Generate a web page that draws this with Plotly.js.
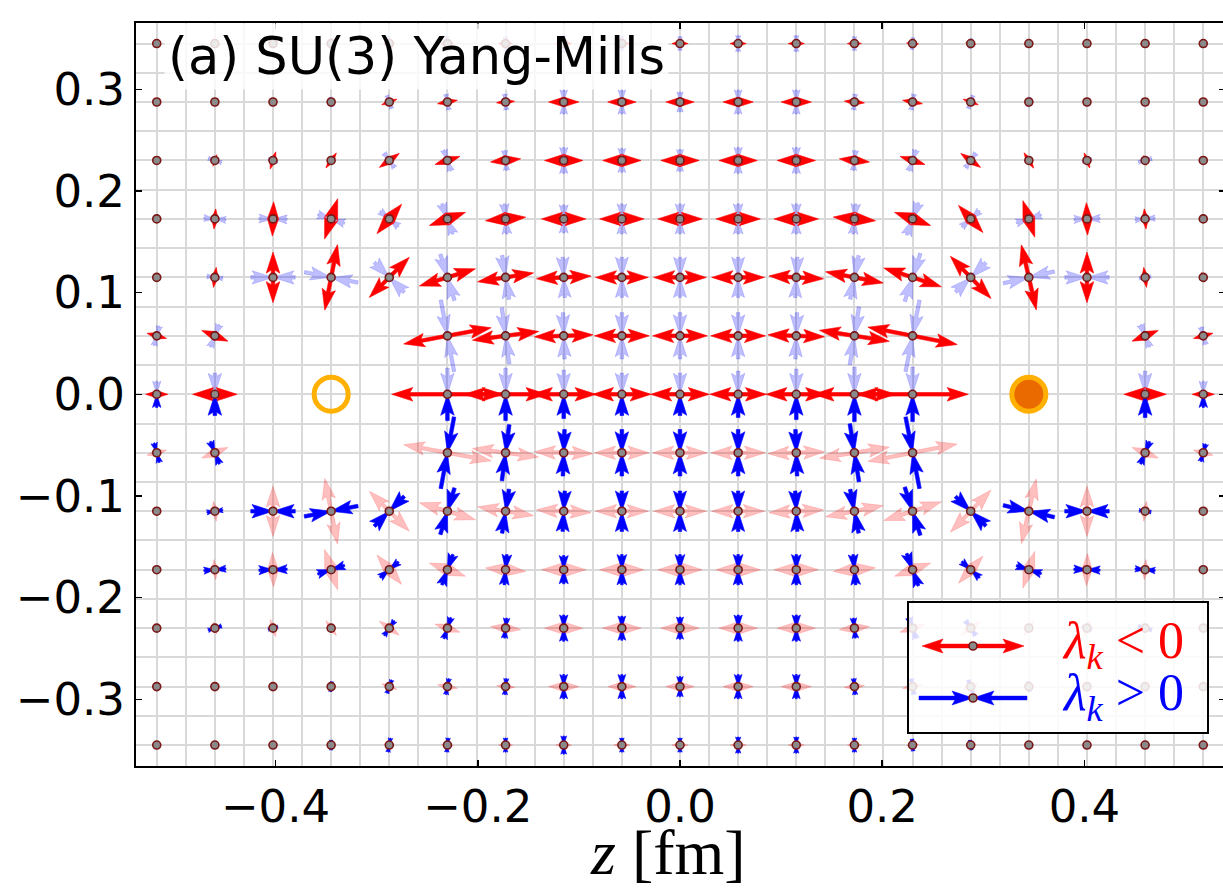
<!DOCTYPE html>
<html><head><meta charset="utf-8">
<script src="https://cdn.plot.ly/plotly-3.0.1.min.js"></script>
<style>html,body{margin:0;padding:0;background:#fff;overflow:hidden}</style>
</head><body><div id="chart" style="width:1225px;height:892px"></div>
<script>
// ---------------- data ----------------
// grid positions of the plotted lattice sites (fm)
const zPos = [-0.5175,-0.46,-0.4025,-0.345,-0.2875,-0.23,-0.1725,-0.115,-0.0575,0,0.0575,0.115,0.1725,0.23,0.2875,0.345,0.4025,0.46,0.5175];
const rPos = [0,0.0575,0.115,0.1725,0.23,0.2875,0.345];
// static charges (anti-quark open, quark filled)
const chargeZ = [-0.345, 0.345];
const chargeR = [0, 0];
// per row y = rPos[j]: angle (deg) of the lambda<0 eigenvector,
// half-length of the lambda<0 arrow (fm), half-length of the lambda>0 arrow (fm)
const N = null;
const ang0 = [0,0,N,N,N,0,0,0,0,0,0,0,0,0,N,N,N,0,0];
const neg0 = [0.011,0.022,N,N,N,0.055,0.041,0.032,0.029,0.029,0.028,0.030,0.041,0.055,N,N,N,0.021,0.011];
const pos0 = [0.013,0.021,N,N,N,0.026,0.026,0.024,0.021,0.021,0.023,0.025,0.027,0.027,N,N,N,0.023,0.013];

const ang1 = [-15,-22,N,N,N,10.5,7.5,2,0,0,0,-2,-9,-11,N,N,N,22,15];
const neg1 = [0.010,0.014,N,N,N,0.044,0.033,0.029,0.027,0.027,0.027,0.028,0.035,0.045,N,N,N,0.014,0.010];
const pos1 = [0.010,0.012,N,N,N,0.036,0.028,0.023,0.023,0.023,0.023,0.023,0.029,0.036,N,N,N,0.012,0.009];

const ang2 = [75,82,90,79,45,17,9,3,0,0,0,-3,-11,-18,-46,-77,-90,-82,-72];
const neg2 = [0.004,0.010,0.025,0.033,0.028,0.029,0.028,0.027,0.026,0.026,0.026,0.027,0.029,0.030,0.029,0.033,0.025,0.010,0.005];
const pos2 = [0,0.008,0.022,0.027,0.021,0.024,0.022,0.020,0.020,0.020,0.020,0.020,0.022,0.025,0.021,0.026,0.022,0.006,0];

const ang3 = [85,85,88,72,50,20,5,0,0,0,0,0,-5,-20,-48,-72,-88,-85,-85];
const neg3 = [0,0.010,0.017,0.021,0.019,0.019,0.020,0.022,0.022,0.022,0.022,0.022,0.021,0.019,0.018,0.019,0.016,0.010,0];
const pos3 = [0,0.011,0.014,0.014,0.012,0.016,0.015,0.014,0.015,0.015,0.015,0.015,0.015,0.017,0.012,0.013,0.013,0.010,0];

const ang4 = [80,72,72,55,35,18,6,0,0,0,0,0,-6,-18,-35,-58,-70,-75,-80];
const neg4 = [0.003,0.006,0.009,0.009,0.012,0.013,0.015,0.019,0.019,0.019,0.019,0.019,0.015,0.013,0.012,0.009,0.008,0.005,0.003];
const pos4 = [0,0.007,0.005,0.003,0.009,0.011,0.010,0.013,0.012,0.011,0.013,0.013,0.010,0.011,0.009,0.003,0.005,0.007,0];

const ang5 = [0,0,0,10,20,10,5,0,0,0,0,0,-5,-10,-20,-10,0,0,0];
const neg5 = [0,0,0,0.004,0.008,0.010,0.009,0.015,0.014,0.014,0.015,0.015,0.010,0.010,0.008,0.004,0,0,0];
const pos5 = [0,0,0,0.005,0.007,0.008,0.008,0.012,0.012,0.010,0.012,0.012,0.008,0.008,0.007,0.005,0,0,0];

const ang6 = [80,0,0,0,10,5,0,0,0,0,0,0,0,-5,-10,0,0,0,-80];
const neg6 = [0.004,0,0,0.003,0.005,0.006,0.007,0.008,0.008,0.008,0.008,0.008,0.007,0.006,0.005,0.003,0,0,0.004];
const pos6 = [0,0,0,0.005,0.007,0.007,0.007,0.009,0.007,0.007,0.008,0.008,0.007,0.006,0.005,0.003,0,0,0];

const xTickVals = [-0.4,-0.2,0,0.2,0.4];
const yTickVals = [-0.3,-0.2,-0.1,0,0.1,0.2,0.3];

// ---------------- layout constants ----------------
const W = 1225, H = 892;
const M = {l:136, r:0, t:23, b:126};
const XR = [-0.538, 0.539], YR = [-0.3656, 0.3652];
const PW = W - M.l - M.r, PH = H - M.t - M.b;
const SX = PW / (XR[1] - XR[0]);   // px per fm
const SY = PH / (YR[1] - YR[0]);
const px2x = p => XR[0] + (p - M.l) / SX;
const px2y = p => YR[1] - (p - M.t) / SY;

const HEAD = {w:3.6, hl:21, hw:13.5, ha:18};
function arrowPts(x0, y0, ux, uy, L, head){
  let {w, hl, hw, ha} = head || HEAD;
  if (L < hl){ const s = L / hl; w*=s; hl*=s; hw*=s; ha*=s; }
  const nx = -uy, ny = ux;
  const P = [[0,-w/2],[L-ha,-w/2],[L-hl,-hw/2],[L,0],[L-hl,hw/2],[L-ha,w/2],[0,w/2]];
  return P.map(([a,b]) => [x0 + (a*ux + b*nx)/SX, y0 + (a*uy + b*ny)/SY]);
}
function pushPoly(bucket, pts){
  pts.forEach(p => { bucket.x.push(p[0]); bucket.y.push(p[1]); });
  bucket.x.push(pts[0][0]); bucket.y.push(pts[0][1]);
  bucket.x.push(null); bucket.y.push(null);
}

const rows = [[ang0,neg0,pos0],[ang1,neg1,pos1],[ang2,neg2,pos2],[ang3,neg3,pos3],[ang4,neg4,pos4],[ang5,neg5,pos5],[ang6,neg6,pos6]];
const redOn = {x:[],y:[]}, redOff = {x:[],y:[]}, bluOn = {x:[],y:[]}, bluOff = {x:[],y:[]};
const ptsX = [], ptsY = [];

rows.forEach((row, j) => {
  const [A, R, B] = row;
  const signs = j === 0 ? [1] : [1, -1];
  signs.forEach(sg => {
    const y0 = sg * rPos[j];
    A.forEach((a, i) => {
      if (a === null) return;
      const x0 = zPos[i];
      ptsX.push(x0); ptsY.push(y0);
      const th = sg * a * Math.PI / 180;
      const rl = R[i] * SX, bl = B[i] * SX;
      [1, -1].forEach(d => {
        // lambda < 0 : outward double arrow
        if (rl > 1.5){
          const ux = d*Math.cos(th), uy = d*Math.sin(th);
          const upper = y0 > 0 || (y0 === 0 && uy >= -1e-9);
          pushPoly(upper ? redOn : redOff, arrowPts(x0, y0, ux, uy, rl));
        }
        // lambda > 0 : inward double arrow
        if (bl > 1.5){
          const vx = d*Math.cos(th + Math.PI/2), vy = d*Math.sin(th + Math.PI/2);
          const tx = x0 + bl*vx/SX, ty = y0 + bl*vy/SY;
          const upper = y0 > 0 || (y0 === 0 && vy > 1e-9);
          pushPoly(upper ? bluOff : bluOn, arrowPts(tx, ty, -vx, -vy, bl));
        }
      });
    });
  });
});

function polyTrace(b, color){
  return {type:'scatter', mode:'lines', x:b.x, y:b.y, fill:'toself', fillcolor:color,
          line:{color:color, width:0.6}, hoverinfo:'skip', showlegend:false};
}
const traces = [
  polyTrace(redOff, 'rgba(255,0,0,0.25)'),
  polyTrace(bluOff, 'rgba(0,0,255,0.25)'),
  polyTrace(redOn, '#ff0000'),
  polyTrace(bluOn, '#0000ff'),
  {type:'scatter', mode:'markers', x:ptsX, y:ptsY, hoverinfo:'skip', showlegend:false,
   marker:{size:8, color:'#8a8a8a', line:{color:'#7a1616', width:1.6}}},
  {type:'scatter', mode:'markers', x:[chargeZ[0]], y:[chargeR[0]], hoverinfo:'skip', showlegend:false,
   marker:{size:34, color:'rgba(0,0,0,0)', line:{color:'#ffb000', width:5}}},
  {type:'scatter', mode:'markers', x:[chargeZ[1]], y:[chargeR[1]], hoverinfo:'skip', showlegend:false,
   marker:{size:34, color:'#ea6a00', line:{color:'#ffb000', width:5}}}
];

// ---------------- legend (drawn as shapes above the data) ----------------
function pathOf(pts){ return 'M' + pts.map(p => p[0].toFixed(5) + ',' + p[1].toFixed(5)).join('L') + 'Z'; }
const shapes = [];
shapes.push({type:'rect', xref:'x', yref:'y', x0:px2x(908), x1:px2x(1208), y0:px2y(602), y1:px2y(733),
  fillcolor:'rgba(255,255,255,0.85)', line:{color:'#000', width:2}, layer:'above'});
const LH = {w:3.8, hl:21, hw:14, ha:18};
const lcx = px2x(973), lyR = px2y(646), lyB = px2y(698);
[1,-1].forEach(d => {
  shapes.push({type:'path', xref:'x', yref:'y', layer:'above', fillcolor:'#ff0000', line:{color:'#ff0000', width:0.5},
    path: pathOf(arrowPts(lcx, lyR, d, 0, 51, LH))});
  shapes.push({type:'path', xref:'x', yref:'y', layer:'above', fillcolor:'#0000ff', line:{color:'#0000ff', width:0.5},
    path: pathOf(arrowPts(lcx + d*54/SX, lyB, -d, 0, 54, LH))});
});
[lyR, lyB].forEach(yy => {
  shapes.push({type:'circle', xref:'x', yref:'y', layer:'above', fillcolor:'#8a8a8a', line:{color:'#7a1616', width:1.6},
    x0: lcx - 4/SX, x1: lcx + 4/SX, y0: yy - 4/SY, y1: yy + 4/SY});
});

const annotations = [
  {xref:'paper', yref:'paper', x:(164 - M.l)/PW, y:1, xanchor:'left', yanchor:'top',
   text:'(a) SU(3) Yang-Mills', showarrow:false, bgcolor:'rgba(255,255,255,0.82)', borderpad:3,
   font:{family:'DejaVu Sans', size:51, color:'#000'}},
  {xref:'x', yref:'y', x:px2x(1060), y:px2y(644), xanchor:'left', yanchor:'middle', showarrow:false,
   text:'<i>λ</i><sub><i>k</i></sub> &lt; 0', font:{family:'Liberation Serif', size:52, color:'#ff0000'}},
  {xref:'x', yref:'y', x:px2x(1060), y:px2y(696), xanchor:'left', yanchor:'middle', showarrow:false,
   text:'<i>λ</i><sub><i>k</i></sub> &gt; 0', font:{family:'Liberation Serif', size:52, color:'#0000ff'}},
  // x-axis title
  {xref:'paper', yref:'paper', x:(668 - M.l)/PW, y:-(890 - (H - M.b))/PH, xanchor:'center', yanchor:'bottom',
   showarrow:false, text:'<i>z</i> [fm]', font:{family:'Liberation Serif', size:64, color:'#000'}}
];

const axisCommon = {
  ticks:'inside', ticklen:6, tickwidth:1.5, tickcolor:'#000',
  showline:true, linecolor:'#000', linewidth:2, mirror:'ticks',
  showgrid:false, zeroline:true, zerolinecolor:'#d9d9d9', zerolinewidth:2,
  tickfont:{family:'DejaVu Sans', size:45, color:'#000'}, tickformat:'.1f',
  minor:{tick0:0, dtick:0.02875, showgrid:true, gridcolor:'#d9d9d9', gridwidth:2, ticks:''}
};
const layout = {
  width:W, height:H, margin:M, paper_bgcolor:'#fff', plot_bgcolor:'#fff', showlegend:false,
  xaxis: Object.assign({}, axisCommon, {range:XR, tickvals:xTickVals}),
  yaxis: Object.assign({}, axisCommon, {range:YR, tickvals:yTickVals}),
  shapes: shapes, annotations: annotations
};
Plotly.newPlot('chart', traces, layout, {staticPlot:true});
</script></body></html>
